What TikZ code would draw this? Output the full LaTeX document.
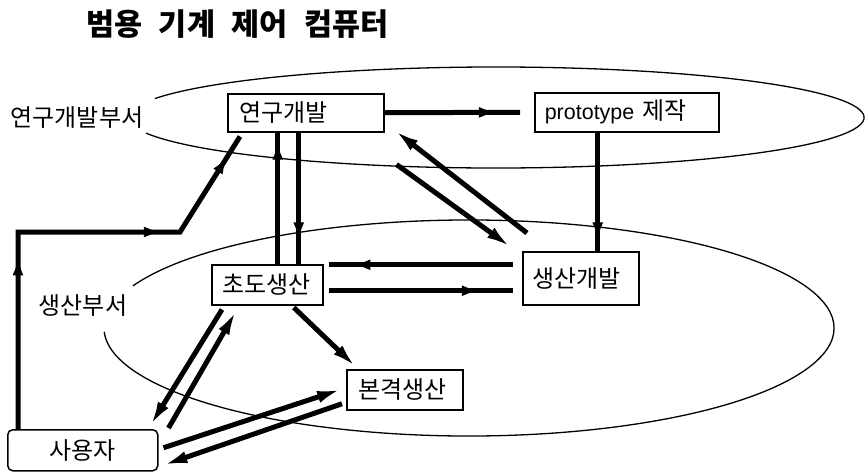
\documentclass[tikz,border=0pt]{standalone}
\usepackage{fontspec}
\setmainfont{Noto Sans CJK KR}
\newfontfamily\latinfont{Liberation Sans}
\usetikzlibrary{arrows.meta,decorations.markings,calc}
\tikzset{
  box/.style={draw, line width=1.5pt, anchor=north west, inner xsep=0pt, inner ysep=0pt,
              align=left, font=\fontsize{24}{28}\selectfont},
  flow/.style={line width=5pt},
  midarr/.style={postaction={decorate},
                 decoration={markings, mark=at position #1 with {\arrow{Latex[length=18pt,width=11pt]}}}},
  endarr/.style={-{Latex[length=26pt,width=12pt]}},
  dept/.style={line width=1.3pt},
  deptlabel/.style={font=\fontsize{24}{28}\selectfont, inner sep=0pt},
}
\begin{document}
\begin{tikzpicture}[x=1pt,y=-1pt]
\useasboundingbox (0,0) rectangle (865,472);

% title
\node[font=\bfseries\fontsize{30.5}{34}\selectfont, inner sep=0pt] (title) at (237.5,24)
  {{\spaceskip=0.55em\relax 범용 기계 제어 컴퓨터}};

% departments
\draw[dept] (496,117.5) ++(202:368 and 50.5)
  arc[start angle=202, end angle=522, x radius=368, y radius=50.5];
\draw[dept] (469,328) ++(203:365 and 108)
  arc[start angle=203, end angle=538, x radius=365, y radius=108];
\node[deptlabel] (lab1) at (77,118) {연구개발부서};
\node[deptlabel] (lab2) at (83,306) {생산부서};

% boxes
\node[box, text width=132pt, minimum height=38pt, inner xsep=12pt] (yg) at (227,93) {연구개발};
\node[box, text width=164pt, minimum height=39pt, inner xsep=10pt] (proto) at (534,92)
  {{\latinfont\fontsize{21.5}{28}\selectfont prototype} 제작};
\node[box, text width=89pt, minimum height=40pt, inner xsep=11pt] (cd) at (211,264) {초도생산};
\node[box, text width=96pt, minimum height=53pt, inner xsep=10pt] (sg) at (522,251) {생산개발};
\node[box, text width=92pt, minimum height=40pt, inner xsep=12pt] (bg) at (346,369) {본격생산};
\node[box, rounded corners=5pt, align=center, minimum width=150pt, minimum height=41pt] (user) at (7,429)
  {\raisebox{-6pt}{사용자}};

% connectors
\draw[flow, midarr=0.83] (yg.east) -- ($(proto.west)+(-14,0)$);
\draw[flow, midarr=0.91] ([xshift=-29pt]proto.south) -- ([xshift=-29pt]proto.south |- sg.north);
\draw[flow, midarr=0.82] ([xshift=-7pt]yg.south) -- ([xshift=-7pt]yg.south |- cd.north);
\draw[flow, midarr=0.93] ([xshift=-28pt]yg.south |- cd.north) -- ([xshift=-28pt]yg.south);
\draw[flow, midarr=0.87] ($(sg.west)+(-9,-13.5)$) -- ($(cd.east |- sg.west)+(5,-13.5)$);
\draw[flow, midarr=0.82] ($(cd.east)+(5,6)$) -- ($(sg.west |- cd.east)+(-9,6)$);
\draw[flow, endarr] ($(sg.north west)+(5,-18)$) -- ($(yg.south east)+(9,-3)$);
\draw[flow, endarr] ($(yg.south east)+(12,32)$) -- ($(sg.north west)+(-10,-3)$);
\draw[flow, endarr] ($(cd.south)+(26.5,2)$) -- ($(bg.north west)+(11,-1)$);
\draw[flow, endarr] ($(cd.south west)+(11,4)$) -- ($(user.north east)+(-9,-2)$);
\draw[flow, endarr] ($(user.north east)+(10,-1)$) -- ($(cd.south west)+(26,4)$);
\draw[flow, endarr] ($(user.east)+(5,-2.5)$) -- ($(bg.west)+(-3,-1)$);
\draw[flow, endarr] ($(bg.west)+(-4,14)$) -- ($(user.east)+(3,15.5)$);

\coordinate (c1) at (18,232);
\coordinate (c2) at (180,232);
\draw[flow, postaction={decorate}, decoration={markings,
    mark=at position 0.364 with {\arrow{Latex[length=18pt,width=11pt]}},
    mark=at position 0.723 with {\arrow{Latex[length=18pt,width=11pt]}},
    mark=at position 0.951 with {\arrow{Latex[length=18pt,width=11pt]}}}]
  ($(user.north west)+(11,0)$) -- (c1) -- (c2) -- ($(yg.south west)+(13,4)$);
\end{tikzpicture}
\end{document}
